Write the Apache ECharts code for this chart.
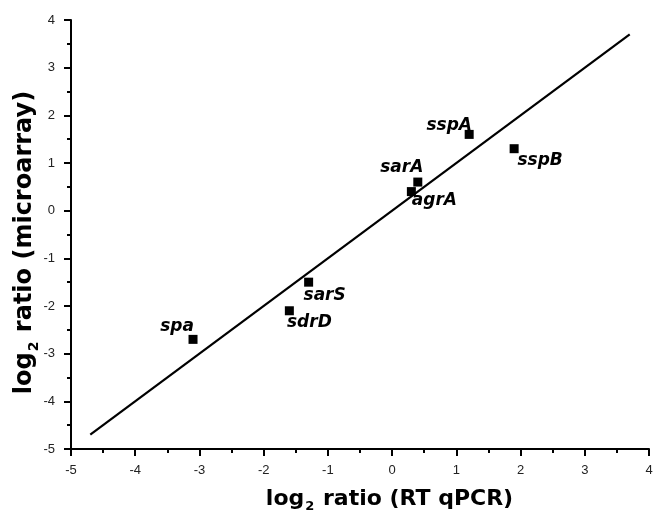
<!DOCTYPE html>
<html>
<head>
<meta charset="utf-8">
<script src="https://cdn.jsdelivr.net/npm/echarts@6/dist/echarts.min.js"></script>
<style>html,body{margin:0;padding:0;background:#fff}#c{width:653px;height:514px}</style>
</head>
<body>
<div id="c"></div>
<script>
// ---- data ----
var genes = ['spa', 'sdrD', 'sarS', 'agrA', 'sarA', 'sspA', 'sspB'];
var qpcr = [-3.1, -1.6, -1.3, 0.3, 0.4, 1.2, 1.9];
var microarray = [-2.7, -2.1, -1.5, 0.4, 0.6, 1.6, 1.3];
var fitX = [-4.7, 3.7];
var fitY = [-4.7, 3.7];
var xTicks = [-5, -4, -3, -2, -1, 0, 1, 2, 3, 4];
var yTicks = [-5, -4, -3, -2, -1, 0, 1, 2, 3, 4];

// ---- label nudges (style, not data) ----
var labelNudge = {
  spa: [-16, -13], sdrD: [20, 12], sarS: [16, 13], agrA: [23, 9],
  sarA: [-16, -14], sspA: [-20, -9], sspB: [26, 12]
};

var FONT = 'DejaVu Sans';
var TICKFONT = 'Liberation Sans';
var pts = genes.map(function (g, i) {
  return {
    name: g, value: [qpcr[i], microarray[i]],
    label: { offset: labelNudge[g] }
  };
});
var fit = fitX.map(function (x, i) { return [x, fitY[i]]; });

function axisCommon(ticks) {
  return {
    type: 'value', min: ticks[0], max: ticks[ticks.length - 1], interval: 1,
    axisLine: { onZero: false, lineStyle: { color: '#000', width: 2 } },
    axisTick: { show: true, inside: false, length: 7, lineStyle: { color: '#000', width: 2 } },
    minorTick: { show: true, splitNumber: 2, length: 4, lineStyle: { color: '#000', width: 2 } },
    splitLine: { show: false },
    axisLabel: { fontFamily: TICKFONT, fontSize: 13, color: '#222' },
    nameLocation: 'middle',
    nameMoveOverlap: false
  };
}

var xAxis = axisCommon(xTicks);
xAxis.axisLabel.margin = 15;
xAxis.name = '{a|log}{b|2}{a| ratio (RT qPCR)}';
xAxis.nameGap = 39;
xAxis.nameTextStyle = {
  padding: [0, 0, 0, 59],
  rich: {
    a: { fontFamily: FONT, fontWeight: 'bold', fontSize: 22, color: '#000', lineHeight: 26, verticalAlign: 'top' },
    b: { fontFamily: FONT, fontWeight: 'bold', fontSize: 13, color: '#000', lineHeight: 13, verticalAlign: 'top', padding: [12, 1, 0, 1] }
  }
};

var yAxis = axisCommon(yTicks);
yAxis.axisLabel.margin = 16;
yAxis.name = '{a|log}{b|2}{a| ratio (microarray)}';
yAxis.nameGap = 30;
yAxis.nameTextStyle = {
  padding: [0, 16, 0, 0],
  rich: {
    a: { fontFamily: FONT, fontWeight: 'bold', fontSize: 24, color: '#000', lineHeight: 28, verticalAlign: 'top' },
    b: { fontFamily: FONT, fontWeight: 'bold', fontSize: 14, color: '#000', lineHeight: 14, verticalAlign: 'top', padding: [14, 1, 0, 1] }
  }
};

var chart = echarts.init(document.getElementById('c'), null, { renderer: 'canvas' });
chart.setOption({
  animation: false,
  backgroundColor: '#fff',
  grid: { left: 71, right: 4, top: 20, bottom: 65, containLabel: false, outerBoundsMode: 'none' },
  xAxis: xAxis,
  yAxis: yAxis,
  series: [
    {
      type: 'line', data: fit, showSymbol: false, symbol: 'none',
      lineStyle: { color: '#000', width: 2.2 }, z: 2
    },
    {
      type: 'scatter', data: pts, symbol: 'rect', symbolSize: 9,
      itemStyle: { color: '#000', opacity: 1 }, z: 3,
      label: {
        show: true, position: 'inside', formatter: '{b}',
        fontFamily: FONT, fontStyle: 'italic', fontWeight: 'bold', fontSize: 17,
        color: '#000', textBorderWidth: 0, opacity: 1,
        align: 'center', verticalAlign: 'middle'
      }
    }
  ]
});
</script>
</body>
</html>
